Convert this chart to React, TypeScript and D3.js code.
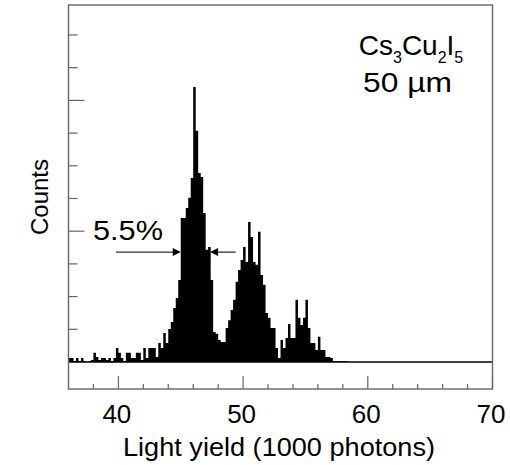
import React from "react";
import * as d3 from "d3";

// Histogram: bin start = 36 + 0.2*i (1000 photons), counts per bin
const binStart = 36;
const binWidth = 0.2;
const counts = [
  12, 12, 3, 12, 3, 12, 3, 0, 3, 6,
  28, 15, 6, 12, 12, 6, 12, 3, 12, 43,
  28, 12, 3, 28, 28, 12, 12, 28, 28, 6,
  43, 12, 43, 43, 43, 15, 58, 43, 89, 58,
  101, 122, 165, 196, 251, 440, 440, 471, 502, 563,
  841, 707, 578, 566, 456, 343, 352, 251, 92, 86,
  67, 61, 61, 104, 128, 159, 190, 245, 281, 312,
  352, 306, 428, 382, 306, 297, 398, 266, 236, 150,
  135, 104, 104, 43, 12, 67, 43, 73, 116, 73,
  73, 190, 135, 113, 135, 190, 104, 58, 58, 37,
  77, 37, 37, 15, 15, 12, 2, 2, 2, 2, 2, 2,
];

const xDomain = [36, 70];
const yDomain = [-82.6, 1091.7];
const xMajorTicks = [40, 50, 60, 70];
const xMinorTicks = [38, 42, 44, 46, 48, 52, 54, 56, 58, 62, 64, 66, 68];
const yMajorTicks = [400, 800];
const yMinorTicks = [100, 200, 300, 500, 600, 700, 900, 1000];

const fwhmLevel = 336;
const leftArrow = [39.8, 45.0];
const rightArrow = [49.4, 47.35];
const fwhmLabel = "5.5%";
const xTitle = "Light yield (1000 photons)";
const yTitle = "Counts";

const FONT = "'Liberation Sans', Arial, sans-serif";

export default function App() {
  const W = 510, H = 465;
  const left = 68.5, right = 492.5, top = 5, bottom = 389;
  const xs = d3.scaleLinear().domain(xDomain).range([left, right]);
  const ys = d3.scaleLinear().domain(yDomain).range([bottom, top]);
  const frame = "#666";

  const pts: [number, number][] = counts.map((c, i) => [binStart + i * binWidth, c]);
  pts.push([binStart + counts.length * binWidth, counts[counts.length - 1]]);
  const area = d3
    .area<[number, number]>()
    .x((d) => xs(d[0]))
    .y0(ys(0))
    .y1((d) => ys(d[1]))
    .curve(d3.curveStepAfter);

  const arrowHead = (tipX: number, tipY: number, dir: number) => {
    const L = 8, hw = 4;
    return `M${tipX},${tipY} L${tipX - dir * L},${tipY - hw} L${tipX - dir * L},${tipY + hw} Z`;
  };

  const ay = ys(fwhmLevel);
  const lTail = xs(leftArrow[0]), lTip = xs(leftArrow[1]);
  const rTail = xs(rightArrow[0]), rTip = xs(rightArrow[1]);

  return (
    <svg width={W} height={H} style={{ position: "absolute", left: 0, top: 0, background: "#fff" }}>
      <rect x={0} y={0} width={W} height={H} fill="#fff" />
      {/* histogram */}
      <path d={area(pts) || ""} fill="#000" stroke="none" />
      {/* zero line */}
      <line x1={left} x2={right} y1={ys(0)} y2={ys(0)} stroke="#000" strokeWidth={1.3} />
      {/* frame */}
      <rect x={left} y={top} width={right - left} height={bottom - top} fill="none" stroke={frame} strokeWidth={1.4} />
      {/* x ticks */}
      {xMajorTicks.map((t) => (
        <line key={"xm" + t} x1={xs(t)} x2={xs(t)} y1={bottom} y2={bottom - 13} stroke={frame} strokeWidth={1.2} />
      ))}
      {xMinorTicks.map((t) => (
        <line key={"xn" + t} x1={xs(t)} x2={xs(t)} y1={bottom} y2={bottom - 5} stroke={frame} strokeWidth={1.2} />
      ))}
      {xMajorTicks.map((t) => (
        <text key={"xl" + t} x={xs(t) - 1.5} y={423} textAnchor="middle" fontFamily={FONT} fontSize={26} fill="#000">
          {t}
        </text>
      ))}
      {/* y ticks */}
      {yMajorTicks.map((t) => (
        <line key={"ym" + t} x1={left} x2={left + 16} y1={ys(t)} y2={ys(t)} stroke={frame} strokeWidth={1.2} />
      ))}
      {yMinorTicks.map((t) => (
        <line key={"yn" + t} x1={left} x2={left + 9} y1={ys(t)} y2={ys(t)} stroke={frame} strokeWidth={1.2} />
      ))}
      {/* axis titles */}
      <text
        x={123}
        y={456}
        fontFamily={FONT}
        fontSize={25}
        textLength={312}
        lengthAdjust="spacingAndGlyphs"
        fill="#000"
      >
        {xTitle}
      </text>
      <text
        transform={`translate(48,${(top + bottom) / 2}) rotate(-90)`}
        textAnchor="middle"
        fontFamily={FONT}
        fontSize={24}
        fill="#000"
      >
        {yTitle}
      </text>
      {/* FWHM arrows */}
      <line x1={lTail} x2={lTip - 6} y1={ay} y2={ay} stroke="#333" strokeWidth={1.3} />
      <path d={arrowHead(lTip, ay, 1)} fill="#000" />
      <line x1={rTail} x2={rTip + 6} y1={ay} y2={ay} stroke="#333" strokeWidth={1.3} />
      <path d={arrowHead(rTip, ay, -1)} fill="#000" />
      <text x={93} y={240} fontFamily={FONT} fontSize={28} textLength={70} lengthAdjust="spacingAndGlyphs" fill="#000">
        {fwhmLabel}
      </text>
      {/* sample label */}
      <text x={411} y={55} textAnchor="middle" fontFamily={FONT} fontSize={28} fill="#000">
        <tspan>Cs</tspan>
        <tspan fontSize={16} dy={8}>3</tspan>
        <tspan dy={-8}>Cu</tspan>
        <tspan fontSize={16} dy={8}>2</tspan>
        <tspan dy={-8}>I</tspan>
        <tspan fontSize={16} dy={8}>5</tspan>
      </text>
      <text
        x={363}
        y={91.5}
        fontFamily={FONT}
        fontSize={28.5}
        textLength={89}
        lengthAdjust="spacingAndGlyphs"
        fill="#000"
      >
        50 µm
      </text>
    </svg>
  );
}
